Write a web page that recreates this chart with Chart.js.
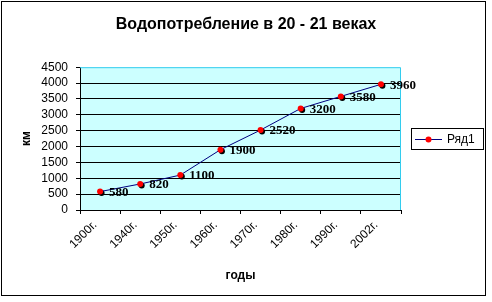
<!DOCTYPE html>
<html>
<head>
<meta charset="utf-8">
<script src="https://cdn.jsdelivr.net/npm/chart.js@4"></script>
<style>
  body { margin: 0; background: #fff; }
  canvas { display: block; }
</style>
</head>
<body>
<canvas id="chart" width="492" height="302"></canvas>
<script>
const years = ["1900г.", "1940г.", "1950г.", "1960г.", "1970г.", "1980г.", "1990г.", "2002г."];
const water = [580, 820, 1100, 1900, 2520, 3200, 3580, 3960];
const seriesName = "Ряд1";
const chartTitle = "Водопотребление в 20 - 21 веках";
const xTitle = "годы";
const yTitle = "км";

const sans = 'Arial, "Liberation Sans", sans-serif';
Chart.defaults.font.family = sans;
Chart.defaults.color = "#000";

// plot background, cyan frame, outer border
const frame = {
  id: "frame",
  beforeDraw(chart) {
    const { ctx, chartArea: a } = chart;
    ctx.save();
    ctx.fillStyle = "#fff";
    ctx.fillRect(0, 0, chart.width, chart.height);
    ctx.fillStyle = "#ccffff";
    ctx.fillRect(a.left, a.top, a.right - a.left, a.bottom - a.top);
    ctx.strokeStyle = "#000";
    ctx.lineWidth = 1;
    ctx.strokeRect(1.5, 1.5, 484, 294);
    ctx.restore();
  },
  beforeDatasetsDraw(chart) {
    const { ctx, chartArea: a } = chart;
    ctx.save();
    ctx.strokeStyle = "#33ccee";
    ctx.lineWidth = 1;
    ctx.beginPath();
    ctx.moveTo(a.left, a.top + 0.5);
    ctx.lineTo(a.right - 0.5, a.top + 0.5);
    ctx.lineTo(a.right - 0.5, a.bottom);
    ctx.stroke();
    // marker shadows
    ctx.fillStyle = "#000";
    chart.getDatasetMeta(0).data.forEach((p) => {
      ctx.beginPath();
      ctx.arc(p.x + 1.5, p.y + 1.5, 3, 0, Math.PI * 2);
      ctx.fill();
    });
    ctx.restore();
  },
  afterDatasetsDraw(chart) {
    const { ctx } = chart;
    const ds = chart.data.datasets[0];
    ctx.save();
    ctx.fillStyle = "#000";
    ctx.font = 'bold 13px "Times New Roman", "Liberation Serif", serif';
    ctx.textBaseline = "middle";
    chart.getDatasetMeta(0).data.forEach((p, i) => {
      ctx.fillText(String(ds.data[i]), p.x + 9, p.y + 1);
    });
    ctx.restore();
  },
  afterDraw(chart) {
    // legend
    const { ctx, chartArea: a } = chart;
    const ds = chart.data.datasets[0];
    const x = a.right + 10;
    const cy = Math.round((a.top + a.bottom) / 2);
    ctx.save();
    ctx.strokeStyle = "#000";
    ctx.lineWidth = 1;
    ctx.strokeRect(x + 0.5, cy - 10.5, 72, 21);
    ctx.strokeStyle = ds.borderColor;
    ctx.beginPath();
    ctx.moveTo(x + 4, cy + 0.5);
    ctx.lineTo(x + 31, cy + 0.5);
    ctx.stroke();
    ctx.fillStyle = ds.pointBackgroundColor;
    ctx.beginPath();
    ctx.arc(x + 17.5, cy + 0.5, 3, 0, Math.PI * 2);
    ctx.fill();
    ctx.fillStyle = "#000";
    ctx.font = "12px " + sans;
    ctx.textBaseline = "middle";
    ctx.fillText(ds.label, x + 36, cy + 1);
    ctx.restore();
  },
};

new Chart(document.getElementById("chart"), {
  type: "line",
  data: {
    labels: years,
    datasets: [
      {
        label: seriesName,
        data: water,
        borderColor: "#000080",
        borderWidth: 1,
        tension: 0,
        pointRadius: 3,
        pointBackgroundColor: "#ff0000",
        pointBorderColor: "#ff0000",
        pointBorderWidth: 0,
      },
    ],
  },
  options: {
    responsive: false,
    animation: false,
    layout: { padding: 0 },
    plugins: {
      legend: { display: false },
      tooltip: { enabled: false },
      title: {
        display: true,
        text: chartTitle,
        font: { size: 16, weight: "bold" },
        padding: { top: 15, bottom: 33 },
      },
    },
    scales: {
      x: {
        offset: true,
        grid: { offset: true, drawOnChartArea: false, color: "#000", tickLength: 4 },
        border: { color: "#000" },
        ticks: { maxRotation: 45, minRotation: 45, font: { size: 12 }, labelOffset: -5, padding: 4 },
        title: { display: true, text: xTitle, font: { size: 12, weight: "bold" }, padding: { top: 0, bottom: 19 } },
        afterFit: (s) => { s.height = 92; },
      },
      y: {
        min: 0,
        max: 4500,
        ticks: {
          stepSize: 500,
          autoSkip: false,
          font: { size: 12 },
          padding: 8,
          callback: (v) => String(v),
        },
        grid: {
          color: (c) => (c.tick && c.tick.value === 4500 ? "rgba(0,0,0,0)" : "#000"),
          tickColor: "#000",
          tickLength: 4,
        },
        border: { color: "#000" },
        title: { display: true, text: yTitle, font: { size: 12, weight: "bold" }, padding: { top: 19, bottom: 0 } },
        afterFit: (s) => { s.width = 80; },
      },
      spacer: {
        type: "linear",
        position: "right",
        display: true,
        grid: { drawOnChartArea: false, drawTicks: false },
        border: { display: false },
        ticks: { display: false },
        afterFit: (s) => { s.width = 91; },
      },
    },
  },
  plugins: [frame],
});
</script>
</body>
</html>
